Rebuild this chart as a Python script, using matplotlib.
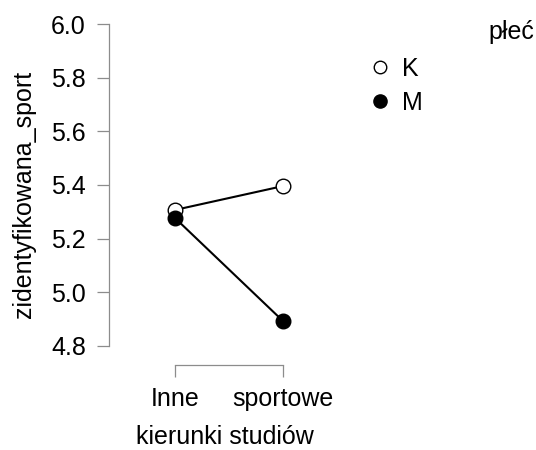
import numpy as np
import matplotlib
matplotlib.use("Agg")
import matplotlib.pyplot as plt
from matplotlib.lines import Line2D

plt.rcParams['font.family'] = ['Liberation Sans', 'DejaVu Sans']

# dane
kierunki = ["Inne", "sportowe"]
plec = ["K", "M"]
srednie_K = [5.307, 5.396]
srednie_M = [5.277, 4.893]
y_ticks = [4.8, 5.0, 5.2, 5.4, 5.6, 5.8, 6.0]

W, H = 536, 450
fig = plt.figure(figsize=(W / 100, H / 100), dpi=100)
# osie: lewa krawedz na x=109 px, gora y=24 px, dol y=365 px
ax = fig.add_axes([109 / W, 1 - 365 / H, (340 - 109) / W, (365 - 24) / H])

x = np.arange(len(kierunki))
ax.plot(x, srednie_K, color="black", lw=1.5, marker="o", ms=10.5,
        mfc="white", mec="black", mew=1, zorder=3)
ax.plot(x, srednie_M, color="black", lw=1.5, marker="o", ms=10.5,
        mfc="black", mec="black", mew=1, zorder=4)

ax.set_xlim(-66 / 108, (340 - 175) / 108)
ax.set_ylim(4.8 - 19 / 268.3, 6.0)

for s in ["top", "right"]:
    ax.spines[s].set_visible(False)
ax.spines["left"].set_bounds(4.8, 6.0)
ax.spines["bottom"].set_bounds(0, 1)
for s in ["left", "bottom"]:
    ax.spines[s].set_color("#8c8c8c")
    ax.spines[s].set_linewidth(0.9)

ax.set_xticks(x)
ax.set_xticklabels(kierunki)
ax.set_yticks(y_ticks)
ax.set_yticklabels([f"{v:.1f}" for v in y_ticks])
ax.tick_params(axis="both", direction="out", length=8.6, width=0.9,
               color="#8c8c8c", labelsize=18)
ax.tick_params(axis="y", pad=8)
ax.tick_params(axis="x", pad=7)

ax.set_ylabel("zidentyfikowana_sport", fontsize=18, labelpad=11)
ax.set_xlabel("kierunki studiów", fontsize=18, labelpad=10)

# legenda
handles = [
    Line2D([], [], ls="none", marker="o", ms=9, mfc="white", mec="black", mew=1),
    Line2D([], [], ls="none", marker="o", ms=9.5, mfc="black", mec="black", mew=1),
]
fig.legend(handles, plec, loc="upper left", bbox_to_anchor=(367 / W, 1 - 57 / H),
           frameon=False, fontsize=18, handletextpad=0.4, labelspacing=0.4,
           borderaxespad=0, borderpad=0, handlelength=1.0)
fig.text(511 / W, 1 - 32 / H, "płeć", fontsize=18, ha="center", va="center")

fig.savefig("out.png", dpi=100)
